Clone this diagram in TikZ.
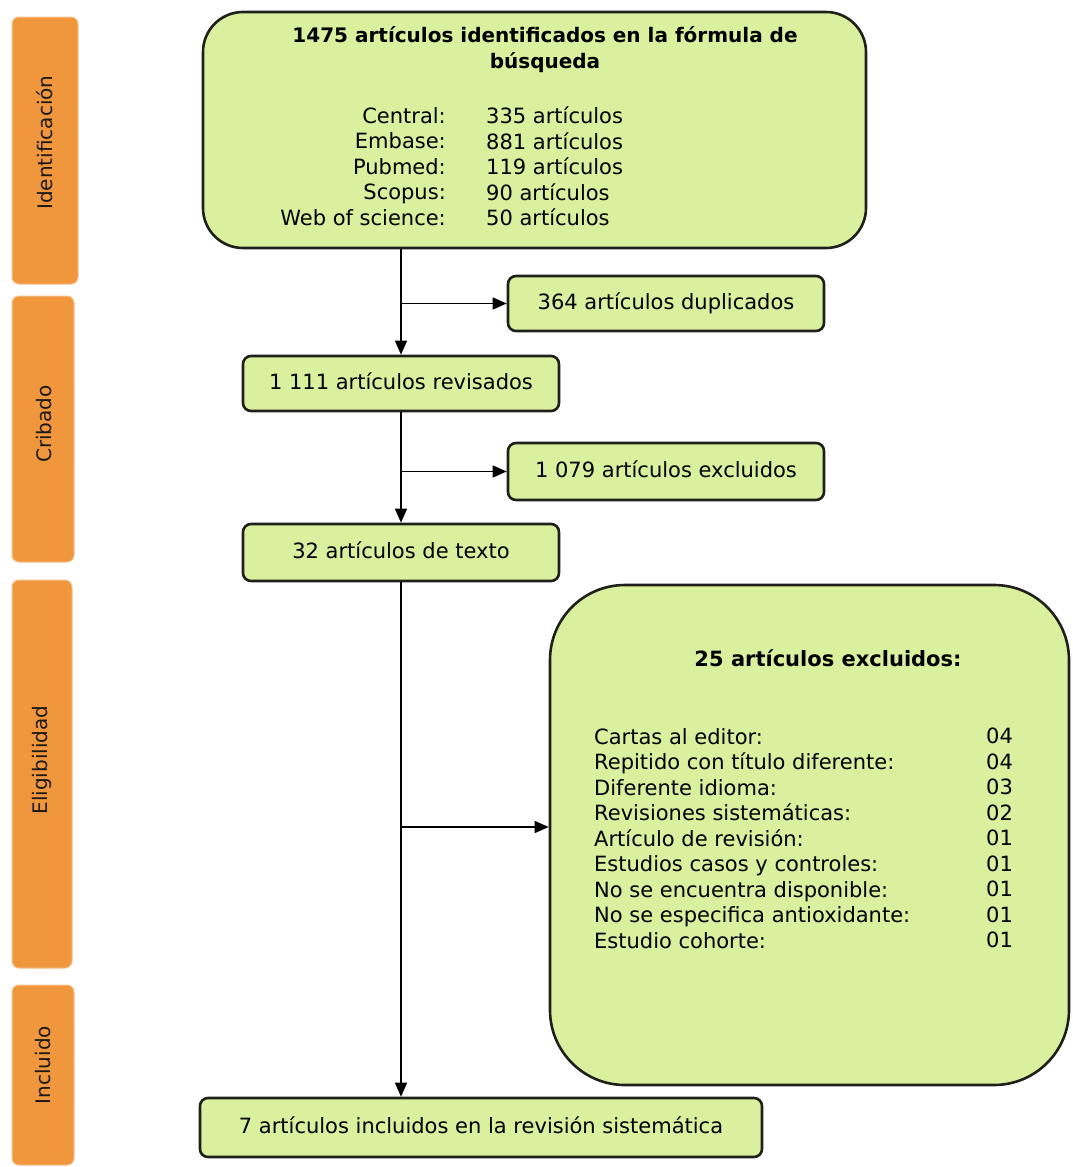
\documentclass[tikz,border=0pt]{standalone}
\usepackage{fontspec}
\setmainfont{DejaVu Sans}
\usetikzlibrary{arrows.meta}
\definecolor{boxgreen}{RGB}{217,241,158}
\definecolor{barorange}{RGB}{240,150,60}
\definecolor{edge}{RGB}{30,32,25}
\begin{document}
\begin{tikzpicture}[x=1pt,y=-1pt,
  box/.style={draw=edge, line width=2.6pt, fill=boxgreen, rounded corners=8pt, inner sep=0pt,
    font=\fontsize{21}{25.5}\selectfont, text height=15pt, text depth=4pt},
  txt/.style={inner sep=0pt, font=\fontsize{21}{25.5}\selectfont},
  bar/.style={fill=barorange, draw=barorange!60!white, line width=1pt, rounded corners=7pt, inner sep=0pt},
  barlabel/.style={rotate=90, text=black!90, font=\fontsize{20}{24}\selectfont},
  arr/.style={line width=1.4pt, -{Triangle[length=14pt,width=12pt]}}]
\useasboundingbox (0,0) rectangle (1072,1167);
% phases
\node[bar, minimum width=66pt, minimum height=267pt] (idf) at (45,150.5) {};
\node[barlabel] (idft) at (45,142.5) {Identificación};
\node[bar, minimum width=62pt, minimum height=266pt] (crib) at (43,429) {};
\node[barlabel] (cribt) at (44,424) {Cribado};
\node[bar, minimum width=60pt, minimum height=388pt] (eleg) at (42,774) {};
\node[barlabel] (elegt) at (42,760) {Eligibilidad};
\node[bar, minimum width=62pt, minimum height=180pt] (inc) at (43,1075) {};
\node[barlabel] (inct) at (43,1065) {Incluido};
% boxes
\node[box, rounded corners=40pt, minimum width=663pt, minimum height=236pt] (ident) at (534.5,130) {};
\node[txt, font=\bfseries\fontsize{20}{26}\selectfont, align=center] (identt) at (545,50)
  {1475 artículos identificados en la fórmula de\\búsqueda};
\node[txt, anchor=north east, align=right] (srcs) at (446,107)
  {Central:\\Embase:\\Pubmed:\\Scopus:\\Web of science:};
\node[txt, anchor=north west, align=left] (srcn) at (486,107)
  {335 artículos\\881 artículos\\119 artículos\\90 artículos\\50 artículos};
\node[box, minimum width=316pt, minimum height=55pt] (dup) at (666,303.5) {364 artículos duplicados};
\node[box, minimum width=316pt, minimum height=55pt] (rev) at (401,383.5) {1 111 artículos revisados};
\node[box, minimum width=316pt, minimum height=57pt] (exc) at (666,471.5) {1 079 artículos excluidos};
\node[box, minimum width=316pt, minimum height=57pt] (text) at (401,552.5) {32 artículos de texto};
\node[box, rounded corners=75pt, minimum width=519pt, minimum height=500pt] (excl) at (809.5,835) {};
\node[txt, font=\bfseries\fontsize{21}{25.5}\selectfont] (exclt) at (828,658) {25 artículos excluidos:};
\node[txt, anchor=north west, align=left] (why) at (594,728)
  {Cartas al editor:\\Repitido con título diferente:\\Diferente idioma:\\Revisiones sistemáticas:\\
   Artículo de revisión:\\Estudios casos y controles:\\No se encuentra disponible:\\
   No se especifica antioxidante:\\Estudio cohorte:};
\node[txt, anchor=north west, align=left] (whyn) at (986,728)
  {04\\04\\03\\02\\01\\01\\01\\01\\01};
\node[box, minimum width=562pt, minimum height=59pt] (incl) at (481,1127.5) {7 artículos incluidos en la revisión sistemática};
% connectors
\coordinate (j1) at (rev.north |- dup.west);
\coordinate (j2) at (rev.south |- exc.west);
\coordinate (j3) at (text.south |- 0,827);
\draw[arr] (ident.south -| rev.north) -- (rev.north);
\draw[arr] (j1) -- (dup.west);
\draw[arr] (rev.south) -- (text.north);
\draw[arr] (j2) -- (exc.west);
\draw[arr] (text.south) -- (text.south |- incl.north);
\draw[arr] (j3) -- (j3 -| excl.west);
\end{tikzpicture}
\end{document}
